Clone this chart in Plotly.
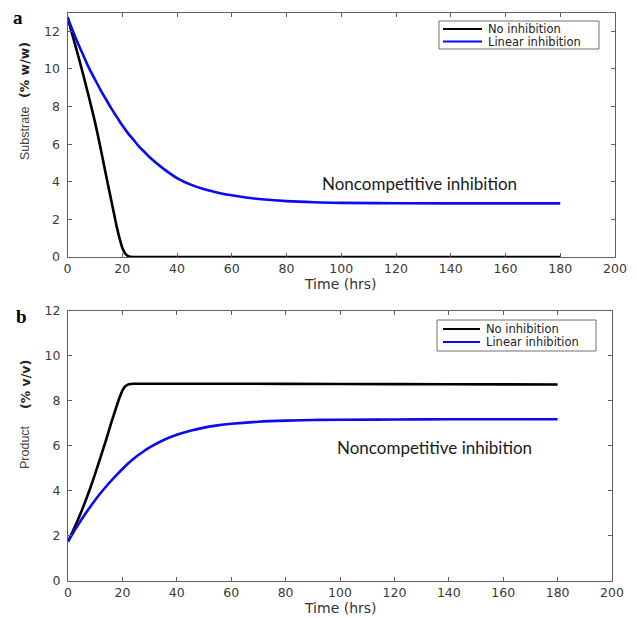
import plotly.graph_objects as go

# ---- data ----
time_s_blue = [0, 2, 4, 6, 8, 10, 12, 14, 16, 18, 20, 22, 24, 26, 28, 30, 35, 40, 45, 50, 55, 60, 70, 80, 90, 100, 120, 140, 160, 180]
substrate_linear = [12.75, 12.0, 11.3, 10.65, 10.0, 9.45, 8.9, 8.4, 7.9, 7.45, 7.0, 6.6, 6.25, 5.9, 5.6, 5.3, 4.7, 4.2, 3.85, 3.6, 3.42, 3.28, 3.08, 2.97, 2.91, 2.88, 2.86, 2.85, 2.85, 2.85]

time_s_black = [0, 2, 4, 6, 8, 10, 12, 14, 16, 17, 18, 19, 20, 21, 22, 23, 24, 30, 60, 100, 140, 180]
substrate_none = [12.75, 11.7, 10.65, 9.55, 8.4, 7.2, 5.85, 4.4, 3.0, 2.3, 1.6, 1.0, 0.5, 0.2, 0.06, 0.01, 0.0, 0.0, 0.0, 0.0, 0.0, 0.0]

time_p_black = [0, 2, 4, 6, 8, 10, 12, 14, 16, 18, 19, 20, 21, 22, 23, 24, 30, 60, 100, 140, 180]
product_none = [1.73, 2.25, 2.8, 3.4, 4.05, 4.75, 5.5, 6.25, 7.05, 7.8, 8.15, 8.45, 8.63, 8.71, 8.74, 8.75, 8.75, 8.75, 8.74, 8.73, 8.72]

time_p_blue = [0, 2, 4, 6, 8, 10, 12, 14, 16, 18, 20, 22, 24, 26, 28, 30, 35, 40, 45, 50, 55, 60, 70, 80, 90, 100, 120, 140, 160, 180]
product_linear = [1.73, 2.14, 2.53, 2.9, 3.25, 3.58, 3.89, 4.18, 4.45, 4.71, 4.96, 5.19, 5.4, 5.59, 5.76, 5.92, 6.24, 6.48, 6.66, 6.8, 6.9, 6.97, 7.06, 7.11, 7.14, 7.15, 7.16, 7.17, 7.17, 7.17]

series_names = ["No inhibition", "Linear inhibition"]
x_ticks = list(range(0, 201, 20))
y_ticks = list(range(0, 13, 2))

BLACK = "#000000"
BLUE = "#0a0af5"
COLORS = [BLACK, BLUE]

fig = go.Figure()
fig.add_trace(go.Scatter(x=time_s_black, y=substrate_none, mode="lines", name=series_names[0],
                         line=dict(color=BLACK, width=2.6, shape="spline", smoothing=0.6), xaxis="x", yaxis="y"))
fig.add_trace(go.Scatter(x=time_s_blue, y=substrate_linear, mode="lines", name=series_names[1],
                         line=dict(color=BLUE, width=2.6, shape="spline"), xaxis="x", yaxis="y"))
fig.add_trace(go.Scatter(x=time_p_black, y=product_none, mode="lines", name=series_names[0],
                         line=dict(color=BLACK, width=2.6, shape="spline", smoothing=0.6), xaxis="x2", yaxis="y2"))
fig.add_trace(go.Scatter(x=time_p_blue, y=product_linear, mode="lines", name=series_names[1],
                         line=dict(color=BLUE, width=2.6, shape="spline"), xaxis="x2", yaxis="y2"))

W, H = 637, 618
def px(x):
    return x / W
def py(y):
    return 1 - y / H

tickfont = dict(family="DejaVu Sans", size=12.5, color="#3a3a3a")
axis_common = dict(showline=True, linecolor="#606060", linewidth=1, mirror="ticks",
                   ticks="inside", ticklen=4, tickcolor="#606060", showgrid=False,
                   zeroline=False, tickfont=tickfont, automargin=False)

fig.update_layout(
    width=W, height=H,
    margin=dict(l=0, r=0, t=0, b=0, autoexpand=False),
    paper_bgcolor="white", plot_bgcolor="white",
    xaxis=dict(domain=[px(67.5), px(615)], range=[0, 200], tickvals=x_ticks, anchor="y", **axis_common),
    yaxis=dict(domain=[py(257), py(12.5)], range=[0, 13], tickvals=y_ticks, anchor="x",
               ticklabelstandoff=4, **axis_common),
    xaxis2=dict(domain=[px(68), px(612)], range=[0, 200], tickvals=x_ticks, anchor="y2", **axis_common),
    yaxis2=dict(domain=[py(580.5), py(310.7)], range=[0, 12], tickvals=y_ticks, anchor="x2",
                ticklabelstandoff=4, **axis_common),
    showlegend=False,
)

ann = []
shapes = []
# axis titles
for yy in (284, 608):
    ann.append(dict(text="Time (hrs)", x=px(340), y=py(yy), xref="paper", yref="paper", showarrow=False,
                    font=dict(family="DejaVu Sans", size=14, color="#333"), xanchor="center", yanchor="middle"))
ann.append(dict(text="<b>(% w/w)</b>", x=px(25), y=py(70), xref="paper", yref="paper", showarrow=False,
                textangle=-90, font=dict(family="DejaVu Sans", size=12.5, color="#222"), xanchor="center", yanchor="middle"))
ann.append(dict(text="Substrate", x=px(25), y=py(133), xref="paper", yref="paper", showarrow=False,
                textangle=-90, font=dict(family="Liberation Sans Narrow, Liberation Sans", size=12.5, color="#444"), xanchor="center", yanchor="middle"))
ann.append(dict(text="<b>(% v/v)</b>", x=px(25), y=py(385), xref="paper", yref="paper", showarrow=False,
                textangle=-90, font=dict(family="DejaVu Sans", size=12.5, color="#222"), xanchor="center", yanchor="middle"))
ann.append(dict(text="Product", x=px(25), y=py(447), xref="paper", yref="paper", showarrow=False,
                textangle=-90, font=dict(family="Liberation Sans Narrow, Liberation Sans", size=12.5, color="#444"), xanchor="center", yanchor="middle"))
# panel labels
ann.append(dict(text="<b>a</b>", x=px(18), y=py(18), xref="paper", yref="paper", showarrow=False,
                font=dict(family="Liberation Serif", size=19, color="#000"), xanchor="center", yanchor="middle"))
ann.append(dict(text="<b>b</b>", x=px(21), y=py(316), xref="paper", yref="paper", showarrow=False,
                font=dict(family="Liberation Serif", size=19, color="#000"), xanchor="center", yanchor="middle"))
# in-plot labels
ann.append(dict(text="Noncompetitive inhibition", x=px(419), y=py(183), xref="paper", yref="paper", showarrow=False,
                font=dict(family="Lato", size=17, color="#1a1a1a"), xanchor="center", yanchor="middle"))
ann.append(dict(text="Noncompetitive inhibition", x=px(434), y=py(447), xref="paper", yref="paper", showarrow=False,
                font=dict(family="Lato", size=17, color="#1a1a1a"), xanchor="center", yanchor="middle"))

# compact legends (box, sample lines, labels) for both panels
legend_boxes = [
    dict(x0=439, x1=599, y0=21, y1=49, line_x0=443, line_x1=482, text_x=486, rows=(29.0, 41.5)),
    dict(x0=437, x1=596, y0=320, y1=351, line_x0=443, line_x1=480, text_x=484, rows=(329.0, 342.0)),
]
for lb in legend_boxes:
    shapes.append(dict(type="rect", xref="paper", yref="paper",
                       x0=px(lb["x0"]), x1=px(lb["x1"]), y0=py(lb["y1"]), y1=py(lb["y0"]),
                       line=dict(color="#707070", width=1), fillcolor="white"))
    for name, col, ry in zip(series_names, COLORS, lb["rows"]):
        shapes.append(dict(type="line", xref="paper", yref="paper",
                           x0=px(lb["line_x0"]), x1=px(lb["line_x1"]), y0=py(ry), y1=py(ry),
                           line=dict(color=col, width=2)))
        ann.append(dict(text=name, x=px(lb["text_x"]), y=py(ry), xref="paper", yref="paper", showarrow=False,
                        font=dict(family="DejaVu Sans", size=11.5, color="#222"), xanchor="left", yanchor="middle"))

fig.update_layout(annotations=ann, shapes=shapes)

# the page's default 8px body margin would shift the chart; remove it
fig.write_html("out.html", config={"displayModeBar": False},
               post_script="document.body.style.margin='0';document.body.style.overflow='hidden';")
